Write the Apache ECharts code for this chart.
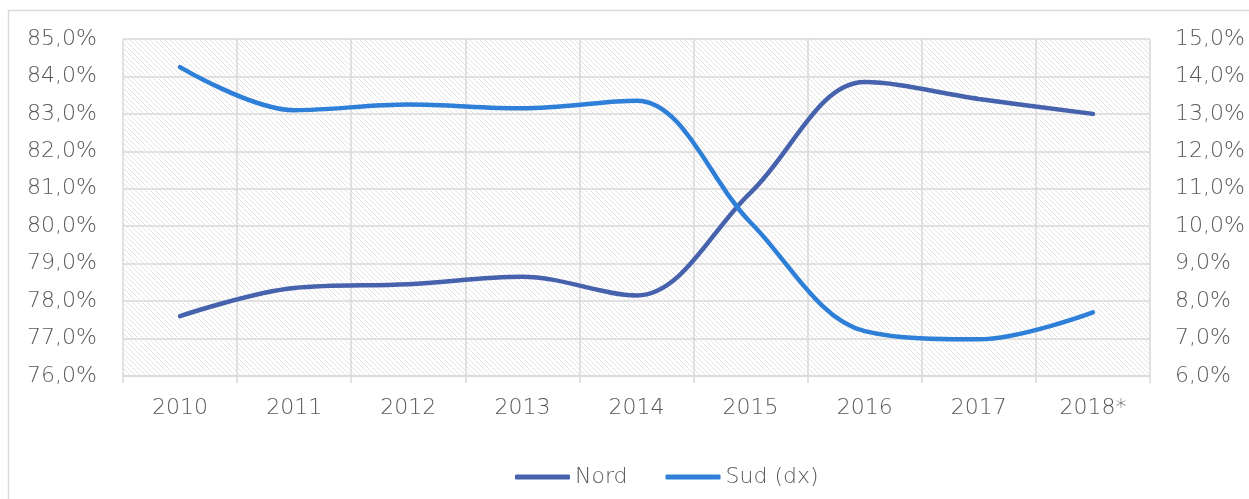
<!DOCTYPE html>
<html>
<head>
<meta charset="utf-8">
<script src="https://cdn.jsdelivr.net/npm/echarts@6/dist/echarts.min.js"></script>
<style>
  html, body { margin: 0; padding: 0; background: #fff; }
  #chart { width: 1249px; height: 499px; }
</style>
</head>
<body>
<div id="chart"></div>
<script>
var years = ['2010', '2011', '2012', '2013', '2014', '2015', '2016', '2017', '2018*'];
var nord = [77.6, 78.35, 78.45, 78.65, 78.15, 80.9, 83.85, 83.4, 83.0];
var sud = [14.25, 13.1, 13.25, 13.15, 13.35, 10.1, 7.2, 6.98, 7.7];

// hatch fill for the plot area
var hatch = document.createElement('canvas');
hatch.width = 5;
hatch.height = 5;
var hc = hatch.getContext('2d');
hc.fillStyle = '#ffffff';
hc.fillRect(0, 0, 5, 5);
hc.strokeStyle = '#e3e3e3';
hc.lineWidth = 1;
hc.beginPath();
hc.moveTo(-1, -1); hc.lineTo(6, 6);
hc.moveTo(-4, 1); hc.lineTo(4, 9);
hc.moveTo(1, -4); hc.lineTo(9, 4);
hc.stroke();

function pct(v) {
  return v.toFixed(1).replace('.', ',') + '%';
}

var gridColor = '#d9d9d9';
var textColor = '#595959';
var font = 'DejaVu Sans';
var weight = 200;

var option = {
  backgroundColor: '#fff',
  animation: false,
  graphic: [{
    type: 'rect',
    shape: { x: 8.5, y: 10.5, width: 1250, height: 500 },
    style: { fill: 'none', stroke: gridColor, lineWidth: 1.5 },
    silent: true
  }],
  grid: {
    left: 123,
    right: 99,
    top: 39,
    bottom: 123,
    show: true,
    borderWidth: 0,
    backgroundColor: { image: hatch, repeat: 'repeat' }
  },
  legend: {
    top: 461,
    left: 510,
    icon: 'roundRect',
    itemWidth: 55,
    itemHeight: 5,
    itemGap: 38,
    textStyle: { color: textColor, fontSize: 22, fontFamily: font, fontWeight: weight },
    data: ['Nord', 'Sud (dx)']
  },
  xAxis: {
    type: 'category',
    data: years,
    boundaryGap: true,
    axisLine: { show: true, lineStyle: { color: gridColor, width: 1.5 } },
    axisTick: { show: true, length: 7, lineStyle: { color: gridColor, width: 1.5 } },
    axisLabel: { color: textColor, fontSize: 22, fontFamily: font, fontWeight: weight, margin: 21 },
    splitLine: { show: true, lineStyle: { color: gridColor, width: 1.5 } }
  },
  yAxis: [{
    type: 'value',
    min: 76,
    max: 85,
    interval: 1,
    axisLine: { show: false },
    axisTick: { show: false },
    axisLabel: { color: textColor, fontSize: 22, fontFamily: font, fontWeight: weight, margin: 26, formatter: pct },
    splitLine: { show: true, lineStyle: { color: gridColor, width: 1.5 } }
  }, {
    type: 'value',
    min: 6,
    max: 15,
    interval: 1,
    position: 'right',
    axisLine: { show: false },
    axisTick: { show: false },
    axisLabel: { color: textColor, fontSize: 22, fontFamily: font, fontWeight: weight, margin: 25, formatter: pct },
    splitLine: { show: false }
  }],
  series: [{
    name: 'Nord',
    type: 'line',
    yAxisIndex: 0,
    data: nord,
    smooth: 0.35,
    symbol: 'none',
    lineStyle: { color: '#4662ac', width: 4.5, cap: 'round' },
    itemStyle: { color: '#4662ac' }
  }, {
    name: 'Sud (dx)',
    type: 'line',
    yAxisIndex: 1,
    data: sud,
    smooth: 0.35,
    symbol: 'none',
    lineStyle: { color: '#2e7fd8', width: 4.5, cap: 'round' },
    itemStyle: { color: '#2e7fd8' }
  }]
};

var chart = echarts.init(document.getElementById('chart'));
chart.setOption(option);
</script>
</body>
</html>
